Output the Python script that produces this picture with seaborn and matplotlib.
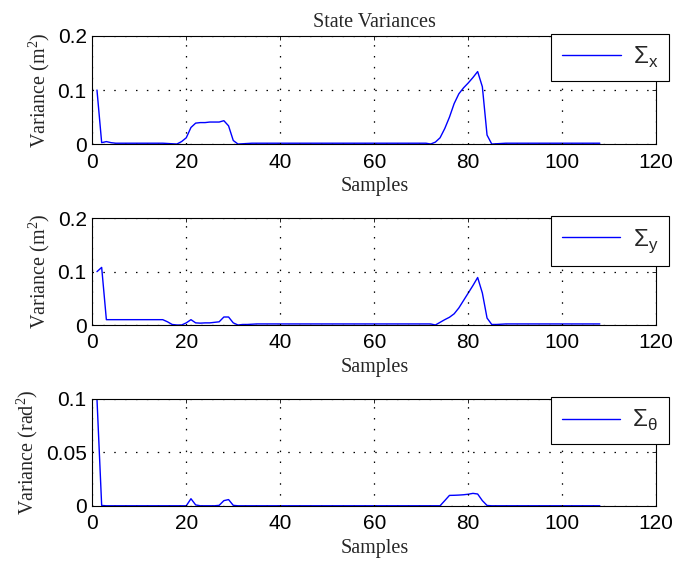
import matplotlib
matplotlib.use("Agg")
import matplotlib.pyplot as plt
import seaborn as sns
import pandas as pd

# Filter state variances per sample
samples = list(range(1, 109))

sigma_x = [
    0.100, 0.003, 0.005, 0.003, 0.002, 0.002, 0.002, 0.002, 0.002, 0.002,
    0.002, 0.002, 0.002, 0.002, 0.002, 0.0015, 0.001, 0.0005, 0.005, 0.012,
    0.031, 0.039, 0.040, 0.040, 0.041, 0.041, 0.041, 0.0435, 0.034, 0.007,
    0.0005, 0.001, 0.0015, 0.002, 0.002, 0.002, 0.002, 0.002, 0.002, 0.002,
    0.002, 0.002, 0.002, 0.002, 0.002, 0.002, 0.002, 0.002, 0.002, 0.002,
    0.002, 0.002, 0.002, 0.002, 0.002, 0.002, 0.002, 0.002, 0.002, 0.002,
    0.002, 0.002, 0.002, 0.002, 0.002, 0.002, 0.002, 0.002, 0.002, 0.002,
    0.002, 0.0005, 0.004, 0.012, 0.029, 0.050, 0.075, 0.093, 0.104, 0.113,
    0.123, 0.134, 0.106, 0.017, 0.0005, 0.001, 0.0015, 0.002, 0.002, 0.002,
    0.002, 0.002, 0.002, 0.002, 0.002, 0.002, 0.002, 0.002, 0.002, 0.002,
    0.002, 0.002, 0.002, 0.002, 0.002, 0.002, 0.002, 0.002,
]

sigma_y = [
    0.100, 0.108, 0.010, 0.010, 0.010, 0.010, 0.010, 0.010, 0.010, 0.010,
    0.010, 0.010, 0.010, 0.010, 0.010, 0.006, 0.001, 0.000, 0.000, 0.004,
    0.010, 0.004, 0.0035, 0.004, 0.004, 0.005, 0.006, 0.015, 0.015, 0.004,
    0.000, 0.001, 0.001, 0.0015, 0.002, 0.002, 0.002, 0.002, 0.002, 0.002,
    0.002, 0.002, 0.002, 0.002, 0.002, 0.002, 0.002, 0.002, 0.002, 0.002,
    0.002, 0.002, 0.002, 0.002, 0.002, 0.002, 0.002, 0.002, 0.002, 0.002,
    0.002, 0.002, 0.002, 0.002, 0.002, 0.002, 0.002, 0.002, 0.002, 0.002,
    0.002, 0.002, 0.000, 0.005, 0.010, 0.0145, 0.021, 0.032, 0.046, 0.060,
    0.074, 0.089, 0.060, 0.013, 0.001, 0.001, 0.0015, 0.002, 0.002, 0.002,
    0.002, 0.002, 0.002, 0.002, 0.002, 0.002, 0.002, 0.002, 0.002, 0.002,
    0.002, 0.002, 0.002, 0.002, 0.002, 0.002, 0.002, 0.002,
]

sigma_theta = [
    0.100, 0.0005, 0.0002, 0.0002, 0.0002, 0.0002, 0.0002, 0.0002, 0.0002, 0.0002,
    0.0002, 0.0002, 0.0002, 0.0002, 0.0002, 0.0002, 0.0002, 0.0002, 0.0002, 0.0002,
    0.0068, 0.001, 0.0002, 0.0002, 0.0002, 0.0002, 0.0006, 0.005, 0.006, 0.0006,
    0.0002, 0.0002, 0.0002, 0.0002, 0.0002, 0.0002, 0.0002, 0.0002, 0.0002, 0.0002,
    0.0002, 0.0002, 0.0002, 0.0002, 0.0002, 0.0002, 0.0002, 0.0002, 0.0002, 0.0002,
    0.0002, 0.0002, 0.0002, 0.0002, 0.0002, 0.0002, 0.0002, 0.0002, 0.0002, 0.0002,
    0.0002, 0.0002, 0.0002, 0.0002, 0.0002, 0.0002, 0.0002, 0.0002, 0.0002, 0.0002,
    0.0002, 0.0002, 0.0002, 0.0002, 0.005, 0.0099, 0.010, 0.0102, 0.0105, 0.011,
    0.0118, 0.0112, 0.005, 0.0005, 0.0002, 0.0002, 0.0002, 0.0002, 0.0002, 0.0002,
    0.0002, 0.0002, 0.0002, 0.0002, 0.0002, 0.0002, 0.0002, 0.0002, 0.0002, 0.0002,
    0.0002, 0.0002, 0.0002, 0.0002, 0.0002, 0.0002, 0.0002, 0.0002,
]

series_labels = ["Σ$_{\\mathregular{x}}$", "Σ$_{\\mathregular{y}}$", "Σ$_{\\mathregular{θ}}$"]
ylabels = ["Variance (m$^{\\mathregular{2}}$)", "Variance (m$^{\\mathregular{2}}$)",
           "Variance (rad$^{\\mathregular{2}}$)"]
yticks = [[0, 0.1, 0.2], [0, 0.1, 0.2], [0, 0.05, 0.1]]
ytick_labels = [["0", "0.1", "0.2"], ["0", "0.1", "0.2"], ["0", "0.05", "0.1"]]
xticks = [0, 20, 40, 60, 80, 100, 120]
title = "State Variances"
xlabel = "Samples"

sns.set_theme(style="white")
plt.rcParams.update({
    "font.family": ["Liberation Sans", "DejaVu Sans"],
    "axes.edgecolor": "black",
    "axes.linewidth": 0.8,
    "xtick.direction": "in",
    "ytick.direction": "in",
    "xtick.top": True,
    "ytick.right": True,
    "xtick.major.size": 3.2,
    "ytick.major.size": 3.2,
    "xtick.major.width": 0.6,
    "ytick.major.width": 0.6,
    "xtick.color": "black",
    "ytick.color": "black",
    "xtick.major.pad": 6,
    "ytick.major.pad": 4,
})

serif = ["Liberation Serif", "DejaVu Serif"]
TICK_FS = 15
LABEL_FS = 14.5

df = pd.DataFrame({
    "sample": samples,
    "sx": sigma_x,
    "sy": sigma_y,
    "st": sigma_theta,
})
columns = ["sx", "sy", "st"]

fig = plt.figure(figsize=(6.73, 5.67), dpi=100)
left, width = 0.1371, 0.838
boxes = [(0.7455, 0.1915), (0.4268, 0.1882), (0.1076, 0.1887)]

for i, (bottom, height) in enumerate(boxes):
    ax = fig.add_axes([left, bottom, width, height])
    sns.lineplot(data=df, x="sample", y=columns[i], ax=ax, color="#0000ff",
                 linewidth=1.0, label=series_labels[i])
    ax.set_xlim(0, 120)
    ax.set_ylim(yticks[i][0], yticks[i][-1])
    ax.set_xticks(xticks)
    ax.set_xticklabels([str(t) for t in xticks], fontsize=TICK_FS)
    ax.set_yticks(yticks[i])
    ax.set_yticklabels(ytick_labels[i], fontsize=TICK_FS)
    ax.grid(True, color="black", linestyle=(0, (1.2, 7.5)), linewidth=0.9)
    ax.set_axisbelow(False)
    for sp in ax.spines.values():
        sp.set_color("black")
        sp.set_linewidth(0.8)
        sp.set_zorder(5)
    ax.set_xlabel(xlabel, fontsize=LABEL_FS, family=serif, labelpad=4)
    ax.set_ylabel(ylabels[i], fontsize=LABEL_FS, family=serif, labelpad=4)
    leg = ax.legend(loc="upper right", bbox_to_anchor=(1.023, 1.018),
                    borderaxespad=0, fancybox=False, framealpha=1,
                    edgecolor="black", handlelength=2.4, handletextpad=0.5,
                    borderpad=0.45, prop={"family": ["Liberation Sans", "DejaVu Sans"], "size": 17.5})
    leg.get_frame().set_linewidth(0.8)
    leg.set_zorder(10)
    if i == 0:
        ax.set_title(title, fontsize=LABEL_FS, family=serif, pad=6)

fig.savefig("out.png", dpi=100)
